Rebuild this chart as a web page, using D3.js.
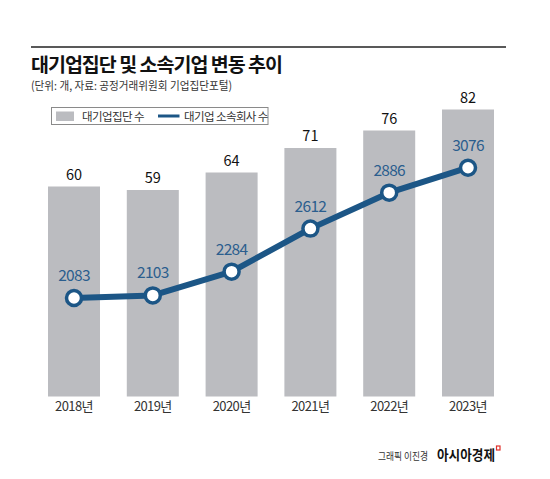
<!DOCTYPE html>
<html>
<head>
<meta charset="utf-8">
<script src="https://cdn.jsdelivr.net/npm/d3@7"></script>
<style>
  html, body { margin: 0; padding: 0; background: #fff; }
  svg { display: block; font-family: "Noto Sans CJK KR", "Noto Sans", sans-serif; }
</style>
</head>
<body>
<svg id="chart" width="550" height="479"></svg>
<script>
const years = ["2018년", "2019년", "2020년", "2021년", "2022년", "2023년"];
const groupCounts = [60, 59, 64, 71, 76, 82];
const affiliateCounts = [2083, 2103, 2284, 2612, 2886, 3076];
const title = "대기업집단 및 소속기업 변동 추이";
const subtitle = "(단위: 개, 자료: 공정거래위원회 기업집단포털)";
const legendLabels = ["대기업집단 수", "대기업 소속회사 수"];

const barColor = "#bbbcc0";
const lineColor = "#1c5686";
const lineLabelColor = "#2b5e8e";

const svg = d3.select("#chart");

// top rule
svg.append("line").attr("x1", 31).attr("x2", 506).attr("y1", 47).attr("y2", 47)
  .attr("stroke", "#222").attr("stroke-width", 1.6);

svg.append("text").attr("x", 31).attr("y", 71.5).text(title)
  .attr("font-size", 19.5).attr("font-weight", 700).attr("fill", "#111")
  .attr("textLength", 252).attr("lengthAdjust", "spacing");

svg.append("text").attr("x", 31).attr("y", 90).text(subtitle)
  .attr("font-size", 11.5).attr("fill", "#333")
  .attr("textLength", 201).attr("lengthAdjust", "spacingAndGlyphs");

// legend
const lg = svg.append("g");
lg.append("rect").attr("x", 51.5).attr("y", 107.5).attr("width", 216.5).attr("height", 17)
  .attr("fill", "#fff").attr("stroke", "#8a8a8a").attr("stroke-width", 1);
lg.append("rect").attr("x", 56).attr("y", 111.5).attr("width", 18).attr("height", 9.5).attr("fill", barColor);
lg.append("text").attr("x", 82).attr("y", 120.5).text(legendLabels[0])
  .attr("font-size", 11.5).attr("fill", "#333").attr("letter-spacing", -0.6);
lg.append("line").attr("x1", 158).attr("x2", 179.5).attr("y1", 116).attr("y2", 116)
  .attr("stroke", lineColor).attr("stroke-width", 3);
lg.append("text").attr("x", 184).attr("y", 120.5).text(legendLabels[1])
  .attr("font-size", 11.5).attr("fill", "#333").attr("letter-spacing", -0.6);

// scales
const x = d3.scaleBand().domain(years).range([34.6, 507.4]).paddingInner(0.34).paddingOuter(0.17);
const yBar = d3.scaleLinear().domain([0, 100]).range([396.5, 46.5]);
const yLine = d3.scaleLinear().domain([0, 3500]).range([571.3, 112.1]);

// bars
svg.append("g").selectAll("rect").data(years).join("rect")
  .attr("x", d => x(d))
  .attr("width", x.bandwidth())
  .attr("y", (d, i) => yBar(groupCounts[i]))
  .attr("height", (d, i) => yBar(0) - yBar(groupCounts[i]))
  .attr("fill", barColor);

svg.append("g").selectAll("text").data(years).join("text")
  .attr("x", d => x(d) + x.bandwidth() / 2)
  .attr("y", (d, i) => yBar(groupCounts[i]) - 7)
  .attr("text-anchor", "middle")
  .attr("font-size", 14.5).attr("fill", "#111")
  .text((d, i) => groupCounts[i]);

// x-axis labels
const xAxis = d3.axisBottom(x).tickSize(0).tickPadding(0);
const ax = svg.append("g").attr("transform", "translate(0,401)").call(xAxis);
ax.select(".domain").remove();
ax.selectAll("text").attr("font-size", 13).attr("fill", "#333")
  .attr("font-family", "\"Noto Sans CJK KR\", sans-serif").attr("letter-spacing", -0.6)
  .attr("dy", "0.8em");

// line
const cx = d => x(d) + x.bandwidth() / 2;
const line = d3.line().x(d => cx(d)).y((d, i) => yLine(affiliateCounts[i]));
svg.append("path").datum(years).attr("d", line)
  .attr("fill", "none").attr("stroke", lineColor).attr("stroke-width", 6)
  .attr("stroke-linejoin", "round");

svg.append("g").selectAll("circle").data(years).join("circle")
  .attr("cx", cx)
  .attr("cy", (d, i) => yLine(affiliateCounts[i]))
  .attr("r", 7.5)
  .attr("fill", "#fff").attr("stroke", lineColor).attr("stroke-width", 3.5);

svg.append("g").selectAll("text").data(years).join("text")
  .attr("x", cx)
  .attr("y", (d, i) => yLine(affiliateCounts[i]) - 17)
  .attr("text-anchor", "middle")
  .attr("font-size", 15.5).attr("fill", lineLabelColor).attr("letter-spacing", -0.7)
  .text((d, i) => affiliateCounts[i]);

// footer
svg.append("text").attr("x", 378).attr("y", 459.5).text("그래픽 이진경")
  .attr("font-size", 10.5).attr("fill", "#333")
  .attr("textLength", 50).attr("lengthAdjust", "spacingAndGlyphs");
svg.append("text").attr("x", 437).attr("y", 460).text("아시아경제")
  .attr("font-size", 13.5).attr("font-weight", 700).attr("fill", "#111")
  .attr("textLength", 58).attr("lengthAdjust", "spacingAndGlyphs");
svg.append("rect").attr("x", 496.5).attr("y", 446).attr("width", 3.5).attr("height", 4)
  .attr("fill", "none").attr("stroke", "#e0302a").attr("stroke-width", 1.2);
</script>
</body>
</html>
